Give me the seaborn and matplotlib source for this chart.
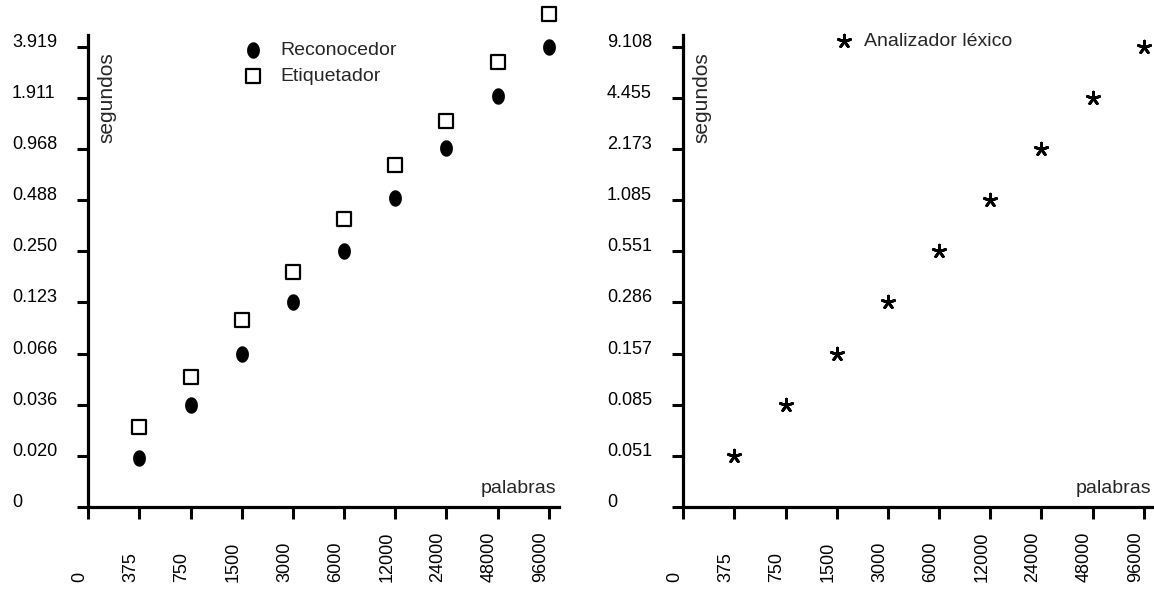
import numpy as np
import pandas as pd
import matplotlib
matplotlib.use('Agg')
import matplotlib.pyplot as plt
import seaborn as sns

# Datos
palabras = [375, 750, 1500, 3000, 6000, 12000, 24000, 48000, 96000]
x_ticks = [0] + palabras

y_ticks_izq = [0, 0.020, 0.036, 0.066, 0.123, 0.250, 0.488, 0.968, 1.911, 3.919]
y_ticks_der = [0, 0.051, 0.085, 0.157, 0.286, 0.551, 1.085, 2.173, 4.455, 9.108]

reconocedor = [0.019, 0.036, 0.066, 0.123, 0.250, 0.505, 0.975, 1.95, 3.919]
etiquetador = [0.028, 0.050, 0.099, 0.187, 0.381, 0.78, 1.40, 3.18, 6.2]
analizador = [0.051, 0.085, 0.157, 0.286, 0.551, 1.085, 2.173, 4.455, 9.108]


def escala(ticks):
    # ticks equiespaciados: lineal entre 0 y el primero, logaritmica despues
    t = np.log(np.asarray(ticks[1:], float))
    idx = np.arange(1, len(ticks), dtype=float)
    slope = t[-1] - t[-2]
    first = ticks[1]

    def fwd(v):
        v = np.asarray(v, float)
        lv = np.log(np.clip(v, first, None))
        p = np.interp(lv, t, idx) + np.maximum(lv - t[-1], 0) / slope
        return np.where(v < first, v / first, p)

    def inv(p):
        p = np.asarray(p, float)
        lv = np.interp(p, idx, t) + np.maximum(p - idx[-1], 0) * slope
        return np.where(p < 1, p * first, np.exp(lv))

    return fwd, inv


sns.set_style('white')
plt.rcParams['font.family'] = ['Liberation Sans', 'DejaVu Sans']

fig = plt.figure(figsize=(11.54, 5.89), dpi=100)
ax1 = fig.add_axes([0.0765, 0.1392, 0.4079, 0.8014])
ax2 = fig.add_axes([0.5921, 0.1392, 0.4079, 0.8014])

theta = np.linspace(0, 2 * np.pi, 60)
elipse = np.column_stack([0.78 * np.cos(theta), np.sin(theta)])

df1 = pd.DataFrame({'palabras': palabras, 'Reconocedor': reconocedor,
                    'Etiquetador': etiquetador})
df2 = pd.DataFrame({'palabras': palabras, 'Analizador': analizador})

sns.scatterplot(data=df1, x='palabras', y='Reconocedor', ax=ax1, marker=elipse,
                s=140, color='black', edgecolor='black', linewidth=0,
                label='Reconocedor', clip_on=False)
sns.scatterplot(data=df1, x='palabras', y='Etiquetador', ax=ax1, marker='s',
                s=88, color='white', edgecolor='black', linewidth=1.6,
                label='Etiquetador', clip_on=False)
sns.scatterplot(data=df2, x='palabras', y='Analizador', ax=ax2, marker=(5, 2, 0),
                s=85, color='black', linewidth=2.0,
                label='Analizador léxico', clip_on=False)

for ax, yt in [(ax1, y_ticks_izq), (ax2, y_ticks_der)]:
    fx = escala(x_ticks)
    fy = escala(yt)
    ax.set_xscale('function', functions=fx)
    ax.set_yscale('function', functions=fy)
    ax.set_xlim(0, float(fx[1](9.2)))
    ax.set_ylim(0, float(fy[1](9.23)))
    ax.set_xticks(x_ticks)
    ax.set_xticklabels([str(v) for v in x_ticks], rotation=90, ha='right', va='bottom')
    ax.set_yticks(yt)
    ax.set_yticklabels(['0'] + ['%.3f' % v for v in yt[1:]], ha='left', va='baseline')
    ax.minorticks_off()
    ax.tick_params(axis='x', bottom=True, direction='out', length=8.6, width=2.2,
                   pad=45.4, labelsize=13, colors='black')
    ax.tick_params(axis='y', left=True, direction='out', length=8.1, width=2.2,
                   pad=46.8, labelsize=13, colors='black')
    for s in ['top', 'right']:
        ax.spines[s].set_visible(False)
    for s in ['left', 'bottom']:
        ax.spines[s].set_linewidth(2.3)
        ax.spines[s].set_color('black')
    ax.set_xlabel('')
    ax.set_ylabel('')
    ax.text(0.0387, 0.964, 'segundos', transform=ax.transAxes, rotation=90,
            ha='center', va='top', fontsize=15)
    ax.text(0.995, 0.0297, 'palabras', transform=ax.transAxes,
            ha='right', va='baseline', fontsize=14)

ax1.legend(loc='upper left', bbox_to_anchor=(0.2108, 0.930),
           bbox_transform=fig.transFigure, frameon=False, fontsize=14,
           handlelength=1, handletextpad=0.9, borderpad=0, borderaxespad=0,
           labelspacing=0.45)
ax2.legend(loc='upper left', bbox_to_anchor=(0.7230, 0.945),
           bbox_transform=fig.transFigure, frameon=False, fontsize=14,
           handlelength=1, handletextpad=0.5, borderpad=0, borderaxespad=0)

fig.savefig('out.png', dpi=100)
